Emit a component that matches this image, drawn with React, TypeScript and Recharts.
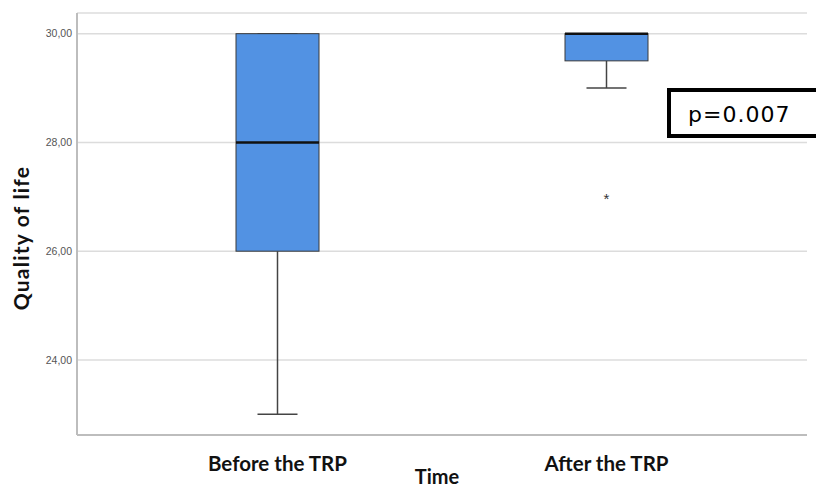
import {
  ComposedChart,
  Bar,
  Scatter,
  XAxis,
  YAxis,
  CartesianGrid,
  Label,
} from "recharts";

// Box plot summary per time point
const CATEGORIES = ["Before the TRP", "After the TRP"];
const MINS = [23, 29];
const Q1S = [26, 29.5];
const MEDIANS = [28, 30];
const Q3S = [30, 30];
const MAXS = [30, 30];
const OUTLIERS: (number | null)[] = [null, 27];
const Y_TICKS = [24, 26, 28, 30];

const BOX_FILL = "#5292e3";
const LABEL_FONT = "Lato, 'Open Sans', sans-serif";

const rows = CATEGORIES.map((name, i) => ({
  name,
  range: [MINS[i], MAXS[i]],
  min: MINS[i],
  q1: Q1S[i],
  median: MEDIANS[i],
  q3: Q3S[i],
  max: MAXS[i],
  outlier: OUTLIERS[i],
}));

// the bar spans min..max, so its rect gives the pixel scale for the inner stats
function BoxShape(props: any) {
  const { x, y, width, height, payload } = props;
  const span = payload.max - payload.min;
  const toY = (v: number) => y + (height * (payload.max - v)) / span;
  const cx = x + width / 2;
  const capHalf = 20;
  const yMin = toY(payload.min);
  const yMax = toY(payload.max);
  const yQ1 = toY(payload.q1);
  const yQ3 = toY(payload.q3);
  const yMed = toY(payload.median);
  return (
    <g>
      <line x1={cx} x2={cx} y1={yQ1} y2={yMin} stroke="#444" strokeWidth={1.5} />
      <line x1={cx - capHalf} x2={cx + capHalf} y1={yMin} y2={yMin} stroke="#444" strokeWidth={1.5} />
      <line x1={cx} x2={cx} y1={yMax} y2={yQ3} stroke="#444" strokeWidth={1.5} />
      <line x1={cx - capHalf} x2={cx + capHalf} y1={yMax} y2={yMax} stroke="#444" strokeWidth={1.5} />
      <rect
        x={x}
        y={yQ3}
        width={width}
        height={Math.max(yQ1 - yQ3, 0)}
        fill={BOX_FILL}
        stroke="#3a3a3a"
        strokeWidth={1}
      />
      <line x1={x} x2={x + width} y1={yMed} y2={yMed} stroke="#111" strokeWidth={2.5} />
    </g>
  );
}

function OutlierShape(props: any) {
  const { cx, cy } = props;
  if (typeof cy !== "number" || isNaN(cy)) return <g />;
  return (
    <text x={cx} y={cy + 7} textAnchor="middle" fontSize={15} fill="#333" fontFamily="'Liberation Sans', sans-serif">
      *
    </text>
  );
}

export default function App() {
  return (
    <div style={{ position: "absolute", left: 0, top: 0, width: 816, height: 489, background: "#fff" }}>
      <ComposedChart
        width={816}
        height={489}
        data={rows}
        margin={{ top: 13, right: 9, bottom: 0, left: 0 }}
      >
        <CartesianGrid horizontal vertical={false} stroke="#dcdcdc" strokeWidth={1.5} />
        <XAxis
          dataKey="name"
          type="category"
          height={54}
          padding={{ left: 36, right: 36 }}
          axisLine={{ stroke: "#bdbdbd", strokeWidth: 2 }}
          tickLine={false}
          tickSize={0}
          tickMargin={21}
          tick={{ fill: "#111", fontSize: 20.5, fontWeight: 700, fontFamily: LABEL_FONT }}
        >
          <Label
            content={(p: any) => {
              const vb = p.viewBox;
              return (
                <text
                  x={vb.x + vb.width / 2 - 5}
                  y={484}
                  textAnchor="middle"
                  fontSize={20}
                  fontWeight={700}
                  fill="#111"
                  fontFamily={LABEL_FONT}
                >
                  Time
                </text>
              );
            }}
          />
        </XAxis>
        <YAxis
          type="number"
          domain={[22.62, 30.38]}
          ticks={Y_TICKS}
          width={77}
          axisLine={{ stroke: "#bdbdbd", strokeWidth: 2 }}
          tickLine={false}
          tickSize={3}
          tickMargin={2}
          tickFormatter={(v: number) => v.toFixed(2).replace(".", ",")}
          tick={{ fill: "#555", fontSize: 10.5, fontFamily: "'Liberation Sans', Arial, sans-serif" }}
        >
          <Label
            content={() => (
              <text
                x={0}
                y={0}
                transform="translate(29 238) rotate(-90)"
                textAnchor="middle"
                fontSize={21}
                fontWeight={700}
                letterSpacing={1.2}
                fill="#111"
                fontFamily={LABEL_FONT}
              >
                Quality of life
              </text>
            )}
          />
        </YAxis>
        <Bar dataKey="range" barSize={83} shape={BoxShape} isAnimationActive={false} />
        <Scatter dataKey="outlier" shape={OutlierShape} isAnimationActive={false} />
      </ComposedChart>
      <div
        style={{
          position: "absolute",
          left: 667,
          top: 88,
          width: 170,
          height: 42,
          border: "4px solid #000",
          background: "#fff",
          fontFamily: "'DejaVu Sans', sans-serif",
          fontSize: 22,
          letterSpacing: 1,
          lineHeight: "46px",
          paddingLeft: 17,
          boxSizing: "content-box",
          color: "#000",
        }}
      >
        p=0.007
      </div>
    </div>
  );
}
